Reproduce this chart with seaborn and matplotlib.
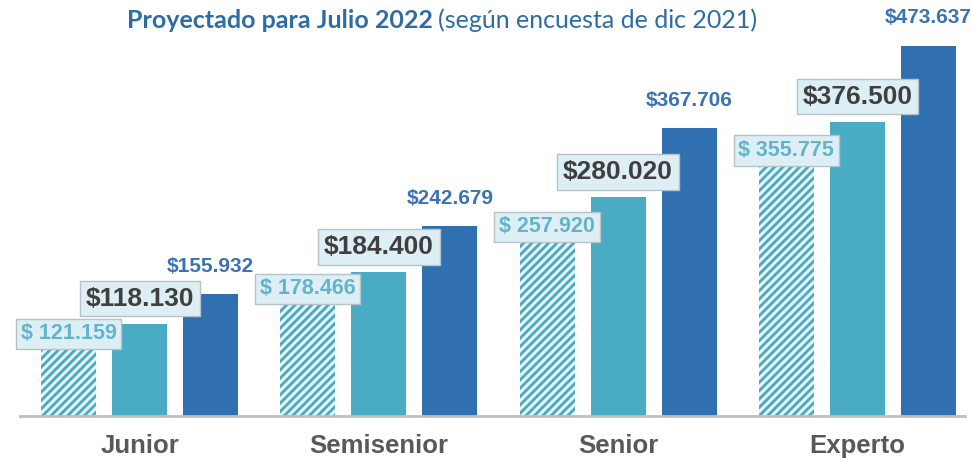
import pandas as pd
import matplotlib.pyplot as plt
import seaborn as sns

# values
categorias = ["Junior", "Semisenior", "Senior", "Experto"]
series = ["Encuesta dic 2021", "Julio 2022", "Julio 2022 proyectado"]
encuesta_2021 = [121159, 178466, 257920, 355775]
julio_2022 = [118130, 184400, 280020, 376500]
proyectado = [155932, 242679, 367706, 473637]

colores = ["#E3F5F7", "#4AABC4", "#3070B0"]


def fmt(v, sep=""):
    return "$" + sep + f"{v:,}".replace(",", ".")


df = pd.DataFrame({
    "categoria": categorias * 3,
    "serie": [s for s in series for _ in categorias],
    "valor": encuesta_2021 + julio_2022 + proyectado,
})

plt.rcParams["hatch.linewidth"] = 2.0
plt.rcParams["hatch.color"] = "#4BA8C0"

fig = plt.figure(figsize=(9.72, 4.63), dpi=100)
ax = fig.add_axes([20 / 972, 47 / 463, 945 / 972, 416 / 463])

sns.barplot(data=df, x="categoria", y="valor", hue="serie", hue_order=series,
            order=categorias, palette=colores, saturation=1, width=0.89, gap=0.225,
            legend=False, ax=ax, linewidth=0)

ax.set_xlim(-0.5, 3.45)
ax.set_ylim(0, 532000)
sns.despine(ax=ax, left=True)
ax.spines["bottom"].set_color("#BFBFBF")
ax.spines["bottom"].set_linewidth(2)
ax.set_yticks([])
ax.set_xlabel("")
ax.set_ylabel("")
ax.tick_params(axis="x", length=0, pad=13)
for lbl in ax.get_xticklabels():
    lbl.set_fontfamily("Liberation Sans")
    lbl.set_fontweight("bold")
    lbl.set_fontsize(18.5)
    lbl.set_color("#595959")

hatched, medio, alto = ax.containers[0], ax.containers[1], ax.containers[2]

for bar in hatched:
    bar.set_facecolor("#E3F5F7")
    bar.set_edgecolor("#4BA8C0")
    bar.set_hatch("////")
    bar.set_linewidth(0)

box = dict(boxstyle="square,pad=0.22", fc="#DDEFF5", ec="#B5C3C8", lw=1)

for bar, v in zip(hatched, encuesta_2021):
    x = bar.get_x() + bar.get_width() / 2
    ax.annotate(fmt(v, " "), (x, bar.get_height()), xytext=(0, -9), textcoords="offset points",
                ha="center", va="center", fontsize=15.5, fontweight="bold",
                family="Liberation Sans", color="#62B4CC", bbox=box, zorder=5)

for bar, v in zip(medio, julio_2022):
    x = bar.get_x() + bar.get_width() / 2
    ax.annotate(fmt(v), (x, bar.get_height()), xytext=(0, 18), textcoords="offset points",
                ha="center", va="center", fontsize=19, fontweight="bold",
                family="Liberation Sans", color="#3F3F3F", bbox=box, zorder=5)

for bar, v in zip(alto, proyectado):
    x = bar.get_x() + bar.get_width() / 2
    ax.annotate(fmt(v), (x, bar.get_height()), xytext=(0, 20), textcoords="offset points",
                ha="center", va="center", fontsize=15, fontweight="bold",
                family="Liberation Sans", color="#3A72B5", zorder=5)

fig.text(433 / 972, 1 - 20 / 463, "Proyectado para Julio 2022", ha="right", va="center",
         fontsize=18, fontweight="bold", family="Lato", color="#2E6DA4")
fig.text(438 / 972, 1 - 20 / 463, "(según encuesta de dic 2021)", ha="left", va="center",
         fontsize=18, family="Lato", color="#2E6DA4")

fig.savefig("out.png", dpi=100)
